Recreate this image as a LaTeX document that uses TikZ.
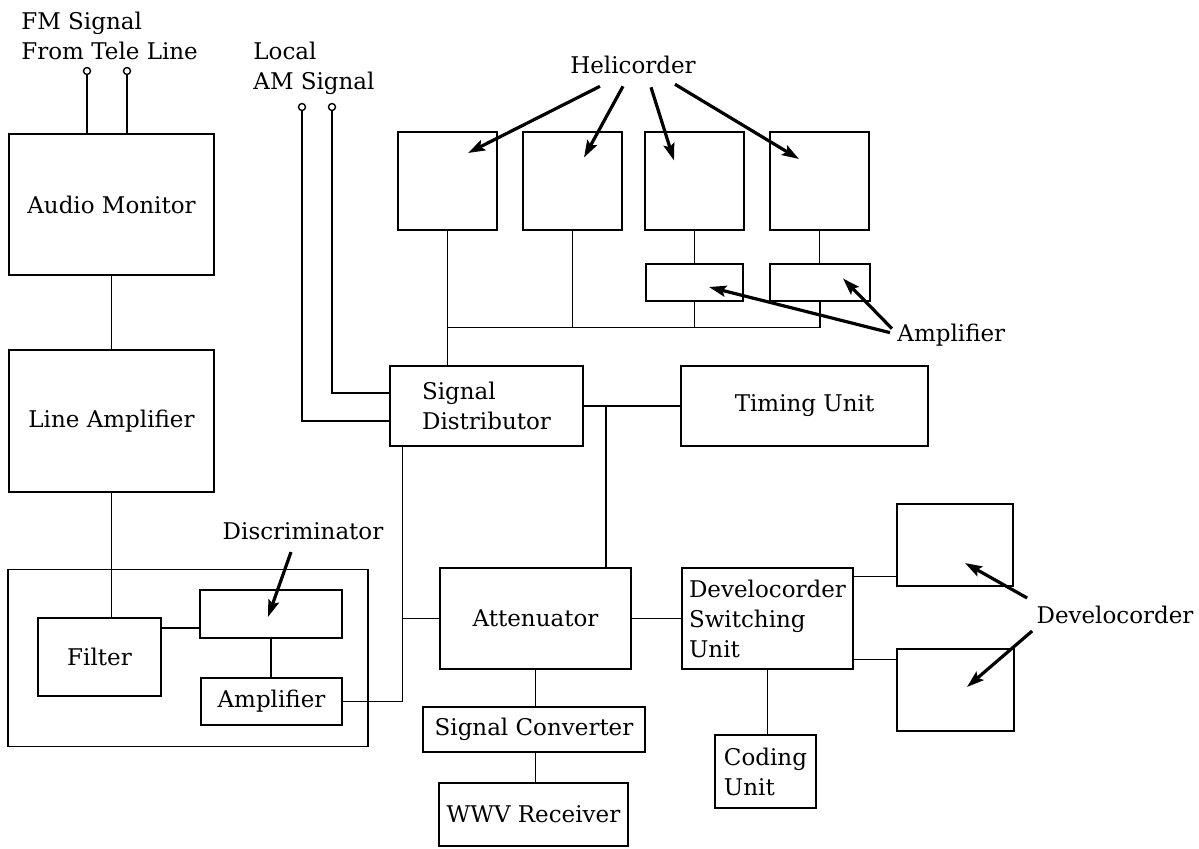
\documentclass[tikz,border=0pt]{standalone}
\usepackage{fontspec}
\setmainfont{DejaVu Serif}
\usetikzlibrary{calc, arrows.meta}

\tikzset{
    unit/.style={draw, line width=0.9pt, inner sep=0pt, align=left},
    wire/.style={line width=0.55pt},
    pointer/.style={->, line width=1.6pt},
    term/.style={draw, circle, line width=0.7pt, inner sep=0pt, minimum size=3.5pt},
    tag/.style={inner sep=0pt, align=left}
}

\begin{document}
\begin{tikzpicture}[>={Stealth[length=8.5pt, width=5.5pt, inset=1.5pt]}, x=0.5pt, y=-0.5pt, font=\fontsize{11.5}{15}\selectfont]
    \useasboundingbox (0,0) rectangle (1199,848);

    % inputs
    \node[tag, anchor=west] (fmtxt) at (21,36) {FM Signal\\From Tele Line};
    \node[term] (fm1) at (87,71) {};
    \node[term] (fm2) at (127,71) {};
    \node[tag, anchor=west] (amtxt) at (253,68) {Local\\AM Signal};
    \node[term] (am1) at (302,107) {};
    \node[term] (am2) at (332,107) {};

    % left column
    \node[unit, minimum width=102.5pt, minimum height=70.5pt] (audio) at (111.5,204.5) {Audio Monitor};
    \node[unit, minimum width=102.5pt, minimum height=71pt] (lineamp) at (111.5,421) {Line Amplifier};
    \node[unit, minimum width=180pt, minimum height=88.5pt] (discunit) at (188,658) {};
    \node[unit, minimum width=61.5pt, minimum height=39pt] (filter) at (99.5,657) {Filter};
    \node[unit, minimum width=71pt, minimum height=24pt] (disc) at (271,614) {};
    \node[unit, minimum width=70.5pt, minimum height=23.5pt] (amp) at (271.5,701.5) {Amplifier};

    % helicorders
    \node[unit, minimum width=49.5pt, minimum height=49pt] (h1) at (447.5,181) {};
    \node[unit, minimum width=49.5pt, minimum height=49pt] (h2) at (572.5,181) {};
    \node[unit, minimum width=49.5pt, minimum height=49pt] (h3) at (694.5,181) {};
    \node[unit, minimum width=49.5pt, minimum height=49pt] (h4) at (819.5,181) {};
    \node[unit, minimum width=48.5pt, minimum height=18.5pt] (a1) at (694.5,282.5) {};
    \node[unit, minimum width=50pt, minimum height=18.5pt] (a2) at (820,282.5) {};

    % middle
    \node[unit, minimum width=96.5pt, minimum height=40pt] (sigdist) at (486.5,406) {Signal\\Distributor};
    \node[unit, minimum width=123.5pt, minimum height=40pt] (timing) at (804.5,406) {Timing Unit};
    \node[unit, minimum width=95.5pt, minimum height=50.5pt] (atten) at (535.5,618.5) {Attenuator};
    \node[unit, minimum width=111pt, minimum height=22.5pt] (sigconv) at (534,729.5) {Signal Converter};
    \node[unit, minimum width=94.5pt, minimum height=31.5pt] (wwv) at (533.5,814.5) {WWV Receiver};

    % develocorders
    \node[unit, minimum width=85.5pt, minimum height=50.5pt] (devsw) at (767.5,618.5) {Develocorder\\Switching\\Unit};
    \node[unit, minimum width=50.5pt, minimum height=36.5pt] (coding) at (765.5,771.5) {Coding\\Unit};
    \node[unit, minimum width=58pt, minimum height=41pt] (dev1) at (955,545) {};
    \node[unit, minimum width=58.5pt, minimum height=41pt] (dev2) at (955.5,690) {};

    % labels
    \node[tag] (helitxt) at (633,65) {Helicorder};
    \node[tag, anchor=base west] (amptxt) at (897,341) {Amplifier};
    \node[tag] (disctxt) at (303,531) {Discriminator};
    \node[tag] (devtxt) at (1115,615) {Develocorder};

    % wiring
    \draw[wire] (fm1) -- (fm1 |- audio.north);
    \draw[wire] (fm2) -- (fm2 |- audio.north);
    \draw[wire] (audio.south) -- (lineamp.north);
    \draw[wire] (lineamp.south) -- (lineamp.south |- filter.north);
    \coordinate (fd) at ($(disc.west)+(0,14)$);
    \draw[wire] (fd -| filter.east) -- (fd);
    \draw[wire] (disc.south) -- (disc.south |- amp.north);

    \draw[wire] (am2) |- ($(sigdist.west)+(0,-13)$);
    \draw[wire] (am1) |- ($(sigdist.west)+(0,15)$);
    \coordinate (sdlow) at ($(sigdist.south west)+(13,0)$);
    \draw[wire] (amp.east) -| (sdlow);
    \draw[wire] (atten.west) -- (atten.west -| sdlow);

    \coordinate (bus) at ($(a1.south)+(0,26)$);
    \draw[wire] (h1.south) -- (h1.south |- sigdist.north);
    \draw[wire] (h1.south |- bus) -- (a2.south |- bus);
    \draw[wire] (h2.south) -- (h2.south |- bus);
    \draw[wire] (h3.south) -- (a1.north);
    \draw[wire] (a1.south) -- (a1.south |- bus);
    \draw[wire] (h4.south) -- (h4.south |- a2.north);
    \draw[wire] (a2.south) -- (a2.south |- bus);

    \draw[wire] (sigdist.east) -- (sigdist.east -| timing.west);
    \coordinate (sdt) at ($(sigdist.east)!0.23!(timing.west)$);
    \draw[wire] (sdt) -- (sdt |- atten.north);
    \draw[wire] (atten.south) -- (atten.south |- sigconv.north);
    \draw[wire] (sigconv.south -| atten.south) -- (atten.south |- wwv.north);
    \draw[wire] (atten.east) -- (atten.east -| devsw.west);
    \draw[wire] (devsw.south) -- (devsw.south |- coding.north);
    \coordinate (dv1) at ($(devsw.north east)+(0,9)$);
    \coordinate (dv2) at ($(devsw.south east)+(0,-10)$);
    \draw[wire] (dv1) -- (dv1 -| dev1.west);
    \draw[wire] (dv2) -- (dv2 -| dev2.west);

    % pointers
    \draw[pointer] ($(helitxt.south)+(-33,12)$) -- ($(h1)+(20.5,-28)$);
    \draw[pointer] ($(helitxt.south)+(-10,12)$) -- ($(h2)+(11.5,-23.5)$);
    \draw[pointer] ($(helitxt.south)+(18,13)$) -- ($(h3)+(-20.5,-20.5)$);
    \draw[pointer] ($(helitxt.south)+(42,10)$) -- ($(h4)+(-20.5,-22)$);
    \draw[pointer] ($(amptxt.west)+(-7,-2)$) -- ($(a1)+(14.5,4.5)$);
    \draw[pointer] ($(amptxt.west)+(-5,-6)$) -- ($(a2)+(23,-4)$);
    \draw[pointer] ($(disctxt.south)+(-12,12)$) -- ($(disc)+(-3,3)$);
    \draw[pointer] ($(devtxt.west)+(-9,-17)$) -- ($(dev1)+(10,18)$);
    \draw[pointer] ($(devtxt.west)+(-4,16)$) -- ($(dev2)+(11.5,-3)$);
\end{tikzpicture}
\end{document}
